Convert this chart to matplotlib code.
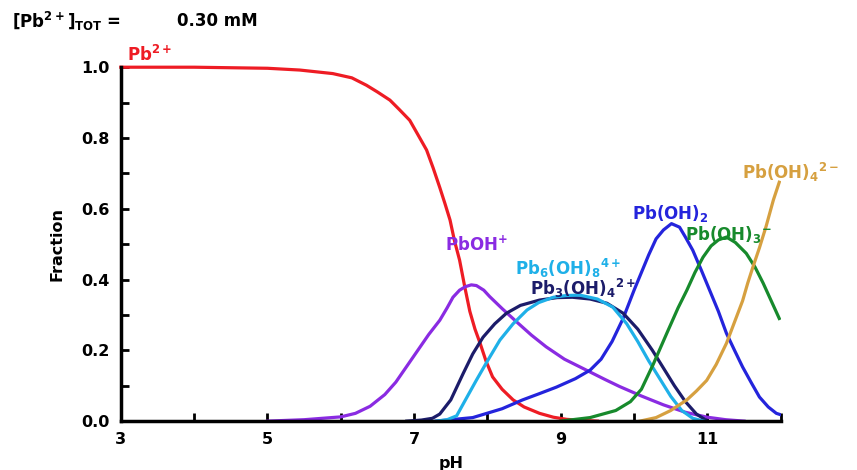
import matplotlib
matplotlib.use("Agg")
import matplotlib.pyplot as plt

plt.rcParams['font.family'] = ['DejaVu Sans']
plt.rcParams['font.weight'] = 'bold'
plt.rcParams['mathtext.fontset'] = 'custom'
plt.rcParams['mathtext.rm'] = 'DejaVu Sans:bold'
plt.rcParams['mathtext.it'] = 'DejaVu Sans:bold'
plt.rcParams['mathtext.bf'] = 'DejaVu Sans:bold'

# ---- data ----
ph_pb = [3, 4, 5, 5.44, 5.89, 6.15, 6.35, 6.5, 6.67, 6.8, 6.94, 7.05, 7.17, 7.26, 7.35, 7.42, 7.49, 7.55, 7.62,
         7.69, 7.76, 7.83, 7.9, 7.98, 8.07, 8.2, 8.35, 8.5, 8.71, 8.9, 9.08, 9.3, 9.5]
fr_pb = [1.0, 1.0, 0.997, 0.992, 0.982, 0.97, 0.949, 0.93, 0.907, 0.88, 0.85, 0.81, 0.766, 0.715, 0.66, 0.615, 0.568,
         0.51, 0.455, 0.38, 0.31, 0.26, 0.22, 0.17, 0.125, 0.09, 0.06, 0.04, 0.022, 0.011, 0.005, 0.002, 0.0]

ph_pboh = [5.0, 5.5, 6.0, 6.2, 6.4, 6.6, 6.75, 6.9, 7.05, 7.2, 7.35, 7.45, 7.53, 7.62, 7.7, 7.78, 7.85, 7.95, 8.03,
           8.2, 8.4, 8.6, 8.8, 9.05, 9.35, 9.6, 9.8, 10.1, 10.4, 10.7, 11.0, 11.25, 11.5]
fr_pboh = [0, 0.004, 0.012, 0.022, 0.042, 0.075, 0.11, 0.155, 0.2, 0.245, 0.285, 0.32, 0.35, 0.37, 0.38, 0.385,
           0.383, 0.37, 0.352, 0.318, 0.28, 0.243, 0.21, 0.175, 0.144, 0.118, 0.098, 0.071, 0.046, 0.025, 0.011, 0.004, 0.0]

ph_pb3 = [6.9, 7.1, 7.25, 7.35, 7.5, 7.67, 7.8, 7.94, 8.1, 8.26, 8.45, 8.71, 8.95, 9.16, 9.4, 9.63, 9.85, 10.05,
          10.25, 10.4, 10.55, 10.7, 10.85, 11.0]
fr_pb3 = [0, 0.003, 0.008, 0.02, 0.06, 0.135, 0.19, 0.237, 0.275, 0.305, 0.327, 0.342, 0.349, 0.35, 0.345, 0.333,
          0.305, 0.26, 0.2, 0.15, 0.1, 0.055, 0.02, 0.0]

ph_pb6 = [7.3, 7.45, 7.58, 7.7, 7.85, 8.0, 8.17, 8.35, 8.54, 8.7, 8.9, 9.08, 9.26, 9.5, 9.71, 9.9, 10.05, 10.2, 10.35,
          10.5, 10.65, 10.8, 10.95]
fr_pb6 = [0, 0.004, 0.015, 0.06, 0.116, 0.17, 0.229, 0.275, 0.314, 0.335, 0.35, 0.355, 0.356, 0.345, 0.322, 0.275,
          0.225, 0.17, 0.12, 0.07, 0.03, 0.008, 0.0]

ph_oh2 = [7.3, 7.8, 8.2, 8.48, 8.7, 8.94, 9.2, 9.4, 9.55, 9.7, 9.85, 10.0, 10.1, 10.2, 10.3, 10.4, 10.51, 10.62,
          10.7, 10.8, 10.92, 11.03, 11.15, 11.26, 11.37, 11.48, 11.6, 11.71, 11.83, 11.94, 12.0]
fr_oh2 = [0, 0.01, 0.035, 0.06, 0.077, 0.096, 0.12, 0.144, 0.175, 0.225, 0.29, 0.37, 0.42, 0.47, 0.515, 0.54, 0.558,
          0.548, 0.52, 0.483, 0.425, 0.37, 0.31, 0.248, 0.2, 0.153, 0.108, 0.068, 0.04, 0.022, 0.018]

ph_oh3 = [9.0, 9.4, 9.75, 9.95, 10.1, 10.26, 10.45, 10.6, 10.72, 10.83, 10.94, 11.05, 11.15, 11.26, 11.38, 11.53,
          11.65, 11.76, 11.87, 11.98]
fr_oh3 = [0, 0.01, 0.03, 0.055, 0.09, 0.16, 0.25, 0.32, 0.37, 0.42, 0.463, 0.495, 0.512, 0.52, 0.505, 0.474, 0.435,
          0.39, 0.34, 0.29]

ph_oh4 = [10.08, 10.3, 10.5, 10.72, 10.85, 10.99, 11.12, 11.26, 11.37, 11.48, 11.55, 11.62, 11.71, 11.8, 11.9, 11.98]
fr_oh4 = [0, 0.01, 0.03, 0.06, 0.085, 0.115, 0.16, 0.22, 0.28, 0.34, 0.39, 0.435, 0.49, 0.55, 0.625, 0.675]

x_major = [3, 5, 7, 9, 11]
x_minor = [4, 6, 8, 10, 12]
y_major = [0.0, 0.2, 0.4, 0.6, 0.8, 1.0]
y_minor = [0.1, 0.3, 0.5, 0.7, 0.9]

c_pb = '#ee1c24'
c_pboh = '#8a2be2'
c_pb3 = '#1c1c6a'
c_pb6 = '#1fb0e8'
c_oh2 = '#2424dc'
c_oh3 = '#178a2c'
c_oh4 = '#d6a040'

fig = plt.figure(figsize=(8.57, 4.70), dpi=100)
ax = fig.add_axes([0.141, 0.104, 0.770, 0.753])

lw = 2.3
ax.plot(ph_pb, fr_pb, color=c_pb, lw=lw, clip_on=False)
ax.plot(ph_pboh, fr_pboh, color=c_pboh, lw=lw)
ax.plot(ph_oh2, fr_oh2, color=c_oh2, lw=lw)
ax.plot(ph_pb3, fr_pb3, color=c_pb3, lw=lw)
ax.plot(ph_pb6, fr_pb6, color=c_pb6, lw=lw)
ax.plot(ph_oh3, fr_oh3, color=c_oh3, lw=lw)
ax.plot(ph_oh4, fr_oh4, color=c_oh4, lw=lw)

ax.set_xlim(3, 12)
ax.set_ylim(0, 1.0)
for s in ['top', 'right']:
    ax.spines[s].set_visible(False)
for s in ['left', 'bottom']:
    ax.spines[s].set_linewidth(2.5)
ax.set_xticks(x_major)
ax.set_xticks(x_minor, minor=True)
ax.set_yticks(y_major)
ax.set_yticks(y_minor, minor=True)
ax.set_xticklabels([str(v) for v in x_major])
ax.set_yticklabels([f'{v:.1f}' for v in y_major])
ax.tick_params(which='both', direction='in', length=6, width=2, labelsize=11.5)
ax.tick_params(axis='x', pad=8)
ax.tick_params(axis='y', pad=8)
for t in ax.get_xticklabels() + ax.get_yticklabels():
    t.set_fontweight('bold')

ax.set_xlabel('pH', fontsize=11.5, fontweight='bold', labelpad=6)
ax.set_ylabel('Fraction', fontsize=11.5, fontweight='bold', labelpad=12)

fig.text(0.014, 0.955, r'[Pb$^{2+}$]$_{\mathrm{TOT}}$ =', fontsize=12, fontweight='bold', va='center')
fig.text(0.207, 0.955, '0.30 mM', fontsize=12, fontweight='bold', va='center')

kw = dict(fontsize=12, fontweight='bold', va='center', clip_on=False)
ax.text(3.08, 1.035, r'Pb$^{2+}$', color=c_pb, **kw)
ax.text(7.42, 0.497, r'PbOH$^{+}$', color=c_pboh, **kw)
ax.text(8.37, 0.432, r'Pb$_{6}$(OH)$_{8}$$^{4+}$', color=c_pb6, **kw)
ax.text(8.58, 0.374, r'Pb$_{3}$(OH)$_{4}$$^{2+}$', color=c_pb3, **kw)
ax.text(9.97, 0.588, r'Pb(OH)$_{2}$', color=c_oh2, **kw)
ax.text(10.69, 0.528, r'Pb(OH)$_{3}$$^{-}$', color=c_oh3, **kw)
ax.text(11.47, 0.703, r'Pb(OH)$_{4}$$^{2-}$', color=c_oh4, **kw)

fig.savefig('out.png', dpi=100)
